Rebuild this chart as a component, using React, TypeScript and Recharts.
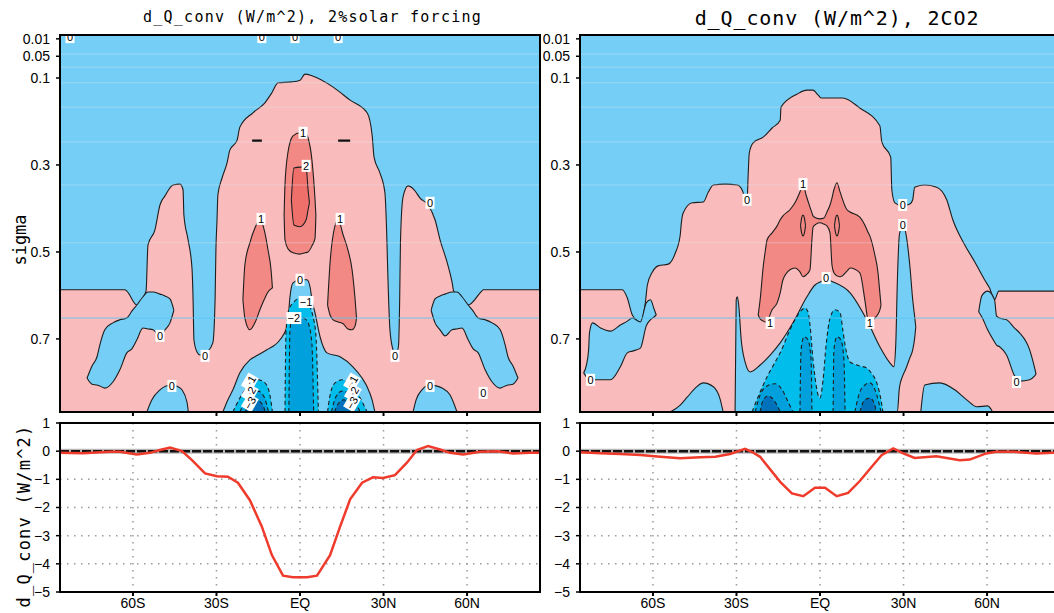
import React from "react";
import {
  ComposedChart,
  LineChart,
  Line,
  Area,
  Scatter,
  XAxis,
  YAxis,
  CartesianGrid,
  ReferenceLine,
} from "recharts";

// axes
const LAT_MIN = -86.2;
const LAT_MAX = 86.2;
const SIG_MAX = 0.868;
const LAT_TICKS = [-60, -30, 0, 30, 60];
const SIGMA_TICKS = [0.01, 0.05, 0.1, 0.3, 0.5, 0.7];
const DQ_TICKS = [1, 0, -1, -2, -3, -4, -5];
const LEVEL_LINES = [0.045, 0.075, 0.111, 0.167, 0.247, 0.346, 0.479];
const LEVEL_STRONG = 0.652;

// ---------- 2% solar forcing: contour outlines (lat, sigma) ----------
const SOLAR_ENV_LAT = [-86.2, -62.9, -62.2, -58.6, -55.3, -54.6, -52.1, -50.3, -48.5, -45.6, -43.1, -42, -41.7, -40.2, -38.8, -38.4, -38.1, -37, -35.9, -33.4, -31.3, -30.5, -30.2, -29.8, -29.5, -28, -26.2, -25.2, -22.6, -21.6, -16.9, -12.6, -10.1, -7.9, -2.9, 0, 1.8, 4.3, 11.9, 18, 24.1, 25.9, 26.6, 28.7, 30.5, 31.1, 31.6, 32.3, 33.4, 34.5, 35.4, 35.8, 36.1, 37, 38.8, 41, 43.1, 46, 48.5, 50.3, 52.8, 54.6, 55.2, 60.4, 65, 65.8, 86.2];
const SOLAR_ENV_TOP = [0.587, 0.587, 0.59, 0.622, 0.59, 0.484, 0.449, 0.392, 0.371, 0.346, 0.344, 0.357, 0.415, 0.472, 0.537, 0.61, 0.702, 0.73, 0.737, 0.73, 0.709, 0.61, 0.495, 0.426, 0.369, 0.33, 0.295, 0.266, 0.243, 0.213, 0.18, 0.157, 0.134, 0.111, 0.109, 0.105, 0.091, 0.095, 0.121, 0.151, 0.18, 0.231, 0.282, 0.318, 0.364, 0.449, 0.564, 0.679, 0.725, 0.739, 0.714, 0.61, 0.472, 0.374, 0.348, 0.357, 0.376, 0.392, 0.426, 0.472, 0.523, 0.569, 0.59, 0.622, 0.592, 0.587, 0.587];

const SOLAR_BLUE_L = {
  lat: [-76.5, -74.7, -72.9, -71.9, -70.1, -67.2, -64.7, -62.2, -60.4, -58.6, -56.4, -54.6, -52.8, -50.3, -48.5, -46.7, -45.3],
  top: [0.79, 0.762, 0.741, 0.714, 0.679, 0.663, 0.656, 0.652, 0.636, 0.622, 0.603, 0.592, 0.592, 0.597, 0.601, 0.608, 0.634],
  bot: [0.79, 0.804, 0.806, 0.808, 0.813, 0.799, 0.771, 0.732, 0.723, 0.702, 0.675, 0.677, 0.679, 0.693, 0.679, 0.663, 0.634],
};
const SOLAR_BLUE_R = {
  lat: [47.1, 48.5, 50.3, 52.1, 54.6, 56.4, 58.2, 60.4, 62.2, 64, 66.5, 69, 71.9, 73.7, 74.7, 76.5, 78.3],
  top: [0.634, 0.608, 0.601, 0.597, 0.592, 0.592, 0.603, 0.622, 0.636, 0.652, 0.656, 0.663, 0.679, 0.714, 0.741, 0.762, 0.79],
  bot: [0.634, 0.663, 0.679, 0.693, 0.679, 0.677, 0.675, 0.702, 0.723, 0.732, 0.771, 0.799, 0.813, 0.808, 0.806, 0.804, 0.79],
};
const SOLAR_HUMP_L = { lat: [-55, -53.2, -50.3, -48.1, -46, -43.8, -42.4, -40.6, -40.1], top: [0.868, 0.84, 0.817, 0.808, 0.806, 0.81, 0.817, 0.845, 0.868] };
const SOLAR_HUMP_R = { lat: [40.6, 41.7, 43.8, 46.7, 48.9, 51, 53.9, 56.4], top: [0.868, 0.84, 0.817, 0.806, 0.808, 0.813, 0.829, 0.868] };
const SOLAR_CORE = {
  lat: [-27.7, -25.9, -24.1, -21.6, -18, -15.1, -11.9, -7.2, -4.7, -4, -3.6, -2.5, 0, 2.5, 3.6, 4.3, 5.4, 7.2, 9.7, 14.4, 19, 22.3, 24.1, 25.9, 26.9],
  top: [0.868, 0.84, 0.817, 0.778, 0.748, 0.737, 0.725, 0.702, 0.672, 0.633, 0.603, 0.571, 0.564, 0.564, 0.58, 0.61, 0.64, 0.695, 0.732, 0.741, 0.764, 0.79, 0.81, 0.84, 0.868],
};
const SOLAR_N1_C = { lat: [-5.4, -5, -4, -2.2, 0, 2.5, 4, 4.7, 5.7, 6.6], top: [0.868, 0.679, 0.633, 0.615, 0.606, 0.61, 0.633, 0.649, 0.691, 0.868] };
const SOLAR_N1_L = { lat: [-24.1, -21.6, -18.7, -15.1, -12.6, -10.8, -9.9], top: [0.868, 0.836, 0.81, 0.794, 0.801, 0.829, 0.868] };
const SOLAR_N1_R = { lat: [9.9, 10.8, 12.6, 15.1, 18.7, 21.6, 24.1], top: [0.868, 0.829, 0.801, 0.794, 0.81, 0.836, 0.868] };
const SOLAR_N2_C = { lat: [-4, -3.6, -2.9, 0, 2.2, 3.2, 4.3, 4.9], top: [0.868, 0.679, 0.656, 0.649, 0.656, 0.668, 0.714, 0.868] };
const SOLAR_N2_L = { lat: [-21.6, -19.8, -17.2, -15.1, -12.9, -11.3], top: [0.868, 0.845, 0.824, 0.82, 0.833, 0.868] };
const SOLAR_N2_R = { lat: [11.3, 12.9, 15.1, 17.2, 19.8, 21.6], top: [0.868, 0.833, 0.82, 0.824, 0.845, 0.868] };
const SOLAR_N3_L = { lat: [-19.8, -18, -15.8, -13.7, -12.4], top: [0.868, 0.852, 0.84, 0.849, 0.868] };
const SOLAR_N3_R = { lat: [12.4, 13.7, 15.8, 18, 19.8], top: [0.868, 0.849, 0.84, 0.852, 0.868] };
const SOLAR_P1_C = {
  lat: [-5.7, -5.4, -4.3, -2.5, 0, 1.8, 2.9, 4.3, 5.4, 5.7],
  top: [0.415, 0.346, 0.27, 0.233, 0.226, 0.226, 0.238, 0.289, 0.38, 0.415],
  bot: [0.415, 0.472, 0.493, 0.502, 0.505, 0.502, 0.5, 0.486, 0.468, 0.415],
};
const SOLAR_P1_L = {
  lat: [-20.5, -19.8, -18, -16.2, -14.4, -12.6, -11.5, -10.4, -9.9],
  top: [0.61, 0.53, 0.479, 0.445, 0.426, 0.456, 0.495, 0.541, 0.583],
  bot: [0.61, 0.652, 0.679, 0.663, 0.633, 0.606, 0.592, 0.585, 0.583],
};
const SOLAR_P1_R = {
  lat: [9.9, 10.8, 11.9, 13.7, 15.5, 17.2, 18.7, 19.8, 20.3],
  top: [0.622, 0.525, 0.461, 0.426, 0.461, 0.495, 0.541, 0.61, 0.652],
  bot: [0.622, 0.645, 0.656, 0.661, 0.665, 0.677, 0.679, 0.67, 0.652],
};
const SOLAR_P2_C = {
  lat: [-3.1, -2.2, 0, 2.2, 2.9, 3.4],
  top: [0.38, 0.307, 0.305, 0.305, 0.357, 0.387],
  bot: [0.38, 0.438, 0.442, 0.426, 0.403, 0.387],
};
const SOLAR_DASHES = [
  [-17.2, -13.7, 0.244],
  [13.7, 18, 0.244],
];
const SOLAR_LABELS = [
  { lat: 1.1, sig: 0.226, t: "1" }, { lat: 2.2, sig: 0.302, t: "2" },
  { lat: -14, sig: 0.424, t: "1" }, { lat: 14.4, sig: 0.424, t: "1" },
  { lat: 0, sig: 0.564, t: "0" }, { lat: 2.2, sig: 0.615, t: "\u22121" }, { lat: -2.2, sig: 0.652, t: "\u22122" },
  { lat: 46.7, sig: 0.387, t: "0" }, { lat: -50.3, sig: 0.693, t: "0" },
  { lat: -34.1, sig: 0.739, t: "0" }, { lat: 34.1, sig: 0.739, t: "0" },
  { lat: -46, sig: 0.808, t: "0" }, { lat: 46.7, sig: 0.808, t: "0" }, { lat: 65.8, sig: 0.824, t: "0" },
  { lat: -18, sig: 0.799, t: "\u22121", r: -60 }, { lat: -18, sig: 0.824, t: "\u22122", r: -60 }, { lat: -18, sig: 0.847, t: "\u22123", r: -60 },
  { lat: 18.7, sig: 0.799, t: "\u22121", r: -60 }, { lat: 19, sig: 0.824, t: "\u22122", r: -60 }, { lat: 18.7, sig: 0.847, t: "\u22123", r: -60 },
  { lat: -82.6, sig: 0.006, t: "0" }, { lat: -13.7, sig: 0.006, t: "0" }, { lat: -1.8, sig: 0.006, t: "0" }, { lat: 13.7, sig: 0.006, t: "0" },
];

// ---------- 2CO2: contour outlines (lat, sigma) ----------
const CO2_ENV_LAT = [-86.2, -71, -69.2, -67.4, -64.5, -62.7, -62, -60.2, -58.1, -54.5, -52, -50.2, -49.8, -49.1, -45.9, -41.9, -40.1, -38.3, -34, -29.7, -28, -26.9, -26.2, -25.8, -25.4, -24, -20.4, -17.2, -14.3, -14, -8.2, -4.7, -2.5, -0.7, 0.4, 8.2, 14.3, 21.5, 22.2, 25.4, 25.8, 26.9, 29.7, 32.3, 33.3, 34, 37.6, 41.9, 45.5, 47.7, 52, 55.6, 59.1, 60.9, 62.7, 64.2, 66.3, 86.2];
const CO2_ENV_TOP = [0.587, 0.587, 0.606, 0.645, 0.661, 0.615, 0.576, 0.546, 0.532, 0.528, 0.503, 0.461, 0.433, 0.41, 0.387, 0.385, 0.362, 0.346, 0.344, 0.346, 0.357, 0.376, 0.383, 0.323, 0.272, 0.249, 0.236, 0.215, 0.197, 0.167, 0.137, 0.128, 0.128, 0.139, 0.146, 0.146, 0.169, 0.21, 0.247, 0.282, 0.357, 0.387, 0.394, 0.39, 0.38, 0.351, 0.346, 0.351, 0.38, 0.426, 0.484, 0.523, 0.564, 0.583, 0.61, 0.59, 0.59, 0.59];

const CO2_BLUE_L = {
  lat: [-84.9, -83.9, -83.1, -82.8, -81.7, -78.8, -75.3, -71.7, -69.2, -67.4, -64.5, -62.4, -60.9, -59.5, -58.8],
  top: [0.778, 0.76, 0.725, 0.686, 0.663, 0.675, 0.682, 0.668, 0.659, 0.652, 0.661, 0.617, 0.61, 0.633, 0.645],
  bot: [0.778, 0.787, 0.792, 0.794, 0.794, 0.794, 0.794, 0.764, 0.732, 0.728, 0.721, 0.67, 0.656, 0.649, 0.645],
};
const CO2_BLUE_R = {
  lat: [57, 58.1, 60.2, 62.7, 63.4, 64.5, 67, 69.9, 71.7, 75.3, 77.1, 77.6],
  top: [0.638, 0.601, 0.59, 0.61, 0.647, 0.652, 0.656, 0.675, 0.686, 0.725, 0.767, 0.781],
  bot: [0.638, 0.649, 0.679, 0.707, 0.714, 0.718, 0.737, 0.785, 0.797, 0.794, 0.785, 0.781],
};
const CO2_HUMP_L = { lat: [-53.8, -50.2, -47.7, -44.8, -41.9, -38.3, -35.8, -34.8], top: [0.868, 0.852, 0.834, 0.813, 0.801, 0.81, 0.84, 0.868] };
const CO2_HUMP_R = { lat: [36.2, 37.6, 43, 48.4, 52.7, 56.3, 60.2, 62], top: [0.868, 0.806, 0.801, 0.817, 0.84, 0.856, 0.854, 0.868] };
const CO2_CORE = {
  lat: [-30.5, -30.1, -29.7, -29.2, -28.3, -26.9, -25.1, -21.5, -17.9, -14.3, -9.7, -4.7, -1.8, 0, 2.5, 4.7, 10.8, 16.8, 21.5, 25.1, 26.5, 27.2, 27.8, 28.5, 29.7, 30.8, 32.3, 33.3, 34, 34.4],
  top: [0.868, 0.61, 0.603, 0.622, 0.702, 0.753, 0.776, 0.76, 0.737, 0.709, 0.663, 0.603, 0.576, 0.569, 0.564, 0.569, 0.594, 0.656, 0.718, 0.755, 0.764, 0.714, 0.564, 0.461, 0.438, 0.456, 0.534, 0.61, 0.649, 0.672],
  bot: [0.868, 0.868, 0.868, 0.868, 0.868, 0.868, 0.868, 0.868, 0.868, 0.868, 0.868, 0.868, 0.868, 0.868, 0.868, 0.868, 0.868, 0.868, 0.868, 0.868, 0.868, 0.868, 0.868, 0.813, 0.785, 0.769, 0.743, 0.725, 0.698, 0.672],
};
const CO2_N1 = {
  lat: [-24.4, -21.5, -19, -16.1, -14.3, -10.8, -9, -7.2, -5.4, -4.3, -3.6, -2.5, -1.4, -0.7, 0, 1.1, 2.2, 3.6, 5.4, 7.2, 8.2, 9, 10.8, 14.3, 16.8, 18.6, 20.4, 21.9, 22.6],
  top: [0.868, 0.822, 0.787, 0.753, 0.732, 0.679, 0.656, 0.638, 0.629, 0.638, 0.668, 0.748, 0.806, 0.829, 0.836, 0.794, 0.714, 0.652, 0.633, 0.64, 0.679, 0.714, 0.753, 0.762, 0.767, 0.78, 0.801, 0.84, 0.868],
};
const CO2_N2_A = { lat: [-23.3, -21.5, -19, -16.1, -13.6, -11.8, -9.7], top: [0.868, 0.829, 0.808, 0.803, 0.817, 0.84, 0.868] };
const CO2_N2_B = { lat: [-7.2, -6.8, -5.7, -4.3, -3.2, -2.9], top: [0.868, 0.725, 0.695, 0.702, 0.748, 0.868] };
const CO2_N2_C = { lat: [4.7, 5, 6.1, 7.5, 8.6, 9], top: [0.868, 0.725, 0.695, 0.702, 0.748, 0.868] };
const CO2_N2_D = { lat: [12.5, 14.3, 16.1, 17.9, 20.4, 21.9], top: [0.868, 0.822, 0.806, 0.801, 0.829, 0.868] };
const CO2_N3_A = { lat: [-21.5, -20.4, -18.6, -16.1, -14.3], top: [0.868, 0.84, 0.831, 0.845, 0.868] };
const CO2_N3_D = { lat: [14.3, 16.1, 17.9, 19.7, 20.1], top: [0.868, 0.84, 0.836, 0.852, 0.868] };
const CO2_P1 = {
  lat: [-22.2, -21.5, -20.4, -19.7, -19, -17.2, -15.4, -14.3, -13.3, -10.8, -9, -7.2, -6.1, -5, -3.6, -2.9, -2.5, -1.4, 0, 1.4, 2.5, 3.6, 4.3, 5, 6.1, 7.2, 9.7, 10.8, 14.3, 16.1, 17.2, 17.9, 19.7, 20.8, 21.5, 21.9],
  top: [0.645, 0.61, 0.534, 0.5, 0.472, 0.456, 0.44, 0.426, 0.417, 0.403, 0.387, 0.362, 0.344, 0.369, 0.397, 0.41, 0.417, 0.422, 0.424, 0.422, 0.408, 0.392, 0.376, 0.357, 0.341, 0.362, 0.403, 0.408, 0.42, 0.438, 0.454, 0.463, 0.507, 0.546, 0.594, 0.622],
  bot: [0.645, 0.654, 0.659, 0.661, 0.659, 0.633, 0.617, 0.594, 0.564, 0.541, 0.537, 0.546, 0.557, 0.553, 0.541, 0.472, 0.443, 0.436, 0.433, 0.436, 0.44, 0.456, 0.53, 0.548, 0.555, 0.557, 0.544, 0.537, 0.548, 0.61, 0.656, 0.663, 0.652, 0.643, 0.633, 0.622],
};
const CO2_ELL_L = { lat: [-7, -6.6, -6.1, -5.6, -5.2], top: [0.44, 0.422, 0.415, 0.422, 0.44], bot: [0.44, 0.456, 0.463, 0.456, 0.44] };
const CO2_ELL_R = { lat: [5.2, 5.6, 6.1, 6.6, 7], top: [0.44, 0.422, 0.415, 0.422, 0.44], bot: [0.44, 0.456, 0.463, 0.456, 0.44] };
const CO2_LABELS = [
  { lat: -26.2, sig: 0.38, t: "0" }, { lat: -6.1, sig: 0.344, t: "1" }, { lat: 2.2, sig: 0.56, t: "0" },
  { lat: -17.9, sig: 0.663, t: "1" }, { lat: 17.9, sig: 0.663, t: "1" },
  { lat: 29.7, sig: 0.392, t: "0" }, { lat: 29.7, sig: 0.438, t: "0" },
  { lat: -82.4, sig: 0.794, t: "0" }, { lat: 70.6, sig: 0.799, t: "0" },
];

// ---------- column means d_Q_conv (W/m^2) ----------
const SOLAR_LAT = [-86.2, -78, -68.3, -64.7, -58.6, -53.9, -50.3, -46.7, -42.4, -38.8, -34.1, -29.8, -25.9, -22.3, -18, -13.7, -10.1, -6.1, -2.5, 2.5, 6.1, 10.8, 14.4, 18, 22.3, 26.2, 29.8, 34.1, 38.4, 42, 46, 50.3, 53.9, 58.6, 64.7, 70.8, 76.5, 82.6, 86.2];
const SOLAR_DQ = [-0.06, -0.07, -0.02, -0.02, -0.12, -0.06, 0.04, 0.13, 0, -0.32, -0.79, -0.89, -0.91, -1.12, -1.74, -2.68, -3.69, -4.42, -4.48, -4.48, -4.42, -3.69, -2.68, -1.71, -1.12, -0.93, -0.95, -0.85, -0.41, 0.04, 0.18, 0.06, -0.06, -0.12, -0.02, 0, -0.08, -0.06, -0.06];
const CO2_LAT = [-86.2, -78.8, -71.7, -64.5, -57.3, -50.2, -43, -37.6, -32.3, -26.9, -24.4, -21.5, -14.3, -10.1, -6, -1.8, 1.8, 6, 10.1, 14.3, 18.5, 22.1, 26.3, 29.9, 34, 41.8, 50.2, 53.8, 59.7, 63.3, 69.2, 77.7, 83.5, 86.2];
const CO2_DQ = [-0.04, -0.07, -0.1, -0.14, -0.2, -0.25, -0.22, -0.2, -0.1, 0.08, -0.03, -0.2, -1.09, -1.5, -1.6, -1.3, -1.3, -1.6, -1.48, -1.06, -0.56, -0.14, 0.1, -0.08, -0.24, -0.18, -0.32, -0.3, -0.08, -0.02, -0.02, -0.08, -0.06, -0.06];

// colours
const BLUE0 = "#74cef6";
const BLUE1 = "#00bdec";
const BLUE2 = "#00a0dc";
const BLUE3 = "#0072bc";
const PINK0 = "#f9bbbb";
const PINK1 = "#f28985";
const PINK2 = "#ef6f6b";
const INK = "#1e1e1e";
const MONO = "'DejaVu Sans Mono', monospace";
const TICK = { fontSize: 14, fill: "#000", fontFamily: "'Liberation Sans', Arial, sans-serif" };

const SOLAR_LAYERS = [
  { d: SOLAR_BLUE_L, fill: BLUE0 }, { d: SOLAR_BLUE_R, fill: BLUE0 },
  { d: SOLAR_HUMP_L, fill: BLUE0 }, { d: SOLAR_HUMP_R, fill: BLUE0 },
  { d: SOLAR_CORE, fill: BLUE0 },
  { d: SOLAR_N1_C, fill: BLUE1, dash: true }, { d: SOLAR_N1_L, fill: BLUE1, dash: true }, { d: SOLAR_N1_R, fill: BLUE1, dash: true },
  { d: SOLAR_N2_C, fill: BLUE2, dash: true }, { d: SOLAR_N2_L, fill: BLUE2, dash: true }, { d: SOLAR_N2_R, fill: BLUE2, dash: true },
  { d: SOLAR_N3_L, fill: BLUE3, dash: true }, { d: SOLAR_N3_R, fill: BLUE3, dash: true },
  { d: SOLAR_P1_C, fill: PINK1 }, { d: SOLAR_P1_L, fill: PINK1 }, { d: SOLAR_P1_R, fill: PINK1 },
  { d: SOLAR_P2_C, fill: PINK2 },
];
const CO2_LAYERS = [
  { d: CO2_BLUE_L, fill: BLUE0 }, { d: CO2_BLUE_R, fill: BLUE0 },
  { d: CO2_HUMP_L, fill: BLUE0 }, { d: CO2_HUMP_R, fill: BLUE0 },
  { d: CO2_CORE, fill: BLUE0 },
  { d: CO2_N1, fill: BLUE1, dash: true },
  { d: CO2_N2_A, fill: BLUE2, dash: true }, { d: CO2_N2_B, fill: BLUE2, dash: true },
  { d: CO2_N2_C, fill: BLUE2, dash: true }, { d: CO2_N2_D, fill: BLUE2, dash: true },
  { d: CO2_N3_A, fill: BLUE3, dash: true }, { d: CO2_N3_D, fill: BLUE3, dash: true },
  { d: CO2_P1, fill: PINK1 },
  { d: CO2_ELL_L, fill: PINK1 }, { d: CO2_ELL_R, fill: PINK1 },
];

function buildRows(envLat, envTop, layers) {
  const map = new Map();
  const row = (lat) => {
    const k = lat.toFixed(2);
    let r = map.get(k);
    if (!r) {
      r = { lat };
      map.set(k, r);
    }
    return r;
  };
  row(LAT_MIN).bg = [0, SIG_MAX];
  row(LAT_MAX).bg = [0, SIG_MAX];
  envLat.forEach((l, i) => (row(l).env = [envTop[i], SIG_MAX]));
  layers.forEach((ly, j) => {
    ly.d.lat.forEach((l, i) => {
      row(l)["k" + j] = [ly.d.top[i], ly.d.bot ? ly.d.bot[i] : SIG_MAX];
    });
  });
  return [...map.values()].sort((a, b) => a.lat - b.lat);
}

function LabelBox(props) {
  const { cx, cy, payload } = props;
  if (cx == null || cy == null) return null;
  const w = payload.t.length * 6 + 3;
  return (
    <g transform={`translate(${cx},${cy}) rotate(${payload.r || 0})`}>
      <rect x={-w / 2} y={-6} width={w} height={12} fill="#fff" />
      <text x={0} y={4} textAnchor="middle" fontSize={11} fontFamily="'Liberation Sans', Arial" fill="#000">
        {payload.t}
      </text>
    </g>
  );
}

function ContourPanel({ left, yWidth, envLat, envTop, layers, labels, dashes }) {
  const rows = buildRows(envLat, envTop, layers);
  return (
    <div style={{ position: "absolute", left, top: 0 }}>
      <ComposedChart width={yWidth + 480} height={418} data={rows} margin={{ top: 34.5, right: 0, bottom: 0, left: 0 }}>
        <XAxis dataKey="lat" type="number" domain={[LAT_MIN, LAT_MAX]} allowDataOverflow ticks={LAT_TICKS} interval={0}
          tickFormatter={() => ""} axisLine={false} tickLine={{ stroke: "#000", strokeWidth: 2 }} tickSize={4} height={6} />
        <YAxis type="number" domain={[0, SIG_MAX]} allowDataOverflow reversed ticks={SIGMA_TICKS} interval={0}
          width={yWidth} axisLine={false} tickLine={{ stroke: "#000", strokeWidth: 1.5 }} tickSize={4} tickMargin={6} tick={TICK} />
        <Area dataKey="bg" type="linear" fill={BLUE0} fillOpacity={1} stroke="none" connectNulls isAnimationActive={false} dot={false} activeDot={false} />
        <Area dataKey="env" type="monotone" fill={PINK0} fillOpacity={1} stroke={INK} strokeWidth={1.1} connectNulls isAnimationActive={false} dot={false} activeDot={false} />
        {layers.map((ly, j) => (
          <Area key={j} dataKey={"k" + j} type="monotone" fill={ly.fill} fillOpacity={1} stroke={INK} strokeWidth={1.1}
            strokeDasharray={ly.dash ? "4 3" : undefined} connectNulls isAnimationActive={false} dot={false} activeDot={false} />
        ))}
        {LEVEL_LINES.map((s) => (
          <Line key={s} data={[{ lat: LAT_MIN, sig: s }, { lat: LAT_MAX, sig: s }]} dataKey="sig" stroke="#e4f2fa"
            strokeOpacity={0.35} strokeWidth={1} dot={false} activeDot={false} isAnimationActive={false} />
        ))}
        <Line data={[{ lat: LAT_MIN, sig: LEVEL_STRONG }, { lat: LAT_MAX, sig: LEVEL_STRONG }]} dataKey="sig" stroke="#5cc6f2"
          strokeOpacity={0.85} strokeWidth={1} dot={false} activeDot={false} isAnimationActive={false} />
        {dashes.map((d, i) => (
          <Line key={"d" + i} data={[{ lat: d[0], sig: d[2] }, { lat: d[1], sig: d[2] }]} dataKey="sig" stroke="#111"
            strokeWidth={2.2} dot={false} activeDot={false} isAnimationActive={false} />
        ))}
        <Scatter data={labels} dataKey="sig" shape={LabelBox} isAnimationActive={false} />
      </ComposedChart>
    </div>
  );
}

const latLabel = (v) => (v === 0 ? "EQ" : v < 0 ? `${-v}S` : `${v}N`);
const dqLabel = (v) => (v < 0 ? `\u2212${-v}` : `${v}`);

function DqPanel({ left, yWidth, lat, vals }) {
  const data = lat.map((l, i) => ({ lat: l, v: vals[i] }));
  return (
    <div style={{ position: "absolute", left, top: 413 }}>
      <LineChart width={yWidth + 480} height={201} data={data} margin={{ top: 10, right: 0, bottom: 0, left: 0 }}>
        <CartesianGrid stroke="#9a9a9a" strokeDasharray="1.5 5.5" strokeWidth={1.5} />
        <XAxis dataKey="lat" type="number" domain={[LAT_MIN, LAT_MAX]} allowDataOverflow ticks={LAT_TICKS} interval={0}
          tickFormatter={latLabel} axisLine={false} tickLine={{ stroke: "#000", strokeWidth: 2 }} tickSize={4} height={22} tick={TICK} />
        <YAxis type="number" domain={[-5, 1]} allowDataOverflow ticks={DQ_TICKS} interval={0} tickFormatter={dqLabel}
          width={yWidth} axisLine={false} tickLine={{ stroke: "#000", strokeWidth: 1.5 }} tickSize={4} tickMargin={6} tick={TICK} />
        <ReferenceLine y={0} stroke="#b8b8b8" strokeWidth={5} />
        <ReferenceLine y={0} stroke="#111" strokeWidth={2.5} strokeDasharray="9 2" />
        <Line dataKey="v" type="linear" stroke="#ef3b2c" strokeWidth={2.5} dot={false} activeDot={false} isAnimationActive={false} />
      </LineChart>
    </div>
  );
}

const frame = (left, top, width, height) => (
  <div style={{ position: "absolute", left, top, width, height, border: "2px solid #000", boxSizing: "border-box", pointerEvents: "none" }} />
);

const rotated = (text, cx, cy, size, spacing) => (
  <div style={{ position: "absolute", left: cx, top: cy, transform: "translate(-50%,-50%) rotate(-90deg)", whiteSpace: "pre",
    fontFamily: MONO, fontSize: size, letterSpacing: spacing, lineHeight: 1, color: "#000" }}>
    {text}
  </div>
);

export default function App() {
  return (
    <div style={{ position: "fixed", left: 0, top: 0, width: 1054, height: 613, overflow: "hidden", background: "#fff" }}>
      <div style={{ position: "absolute", left: 0, width: 625, top: 10, textAlign: "center", whiteSpace: "pre", fontFamily: MONO, fontSize: 15, letterSpacing: 1.24, lineHeight: 1 }}>
        d_Q_conv (W/m^2), 2%solar forcing
      </div>
      <div style={{ position: "absolute", left: 537, width: 600, top: 8, textAlign: "center", whiteSpace: "pre", fontFamily: MONO, fontSize: 20, letterSpacing: 0.9, lineHeight: 1 }}>
        d_Q_conv (W/m^2), 2CO2
      </div>
      {rotated("sigma", 20, 240, 17, 0)}
      {rotated("d_Q_conv (W/m^2)", 24, 516, 17, 1.2)}

      <ContourPanel left={10} yWidth={50} envLat={SOLAR_ENV_LAT} envTop={SOLAR_ENV_TOP} layers={SOLAR_LAYERS} labels={SOLAR_LABELS} dashes={SOLAR_DASHES} />
      <ContourPanel left={540} yWidth={40} envLat={CO2_ENV_LAT} envTop={CO2_ENV_TOP} layers={CO2_LAYERS} labels={CO2_LABELS} dashes={[]} />
      <DqPanel left={10} yWidth={50} lat={SOLAR_LAT} vals={SOLAR_DQ} />
      <DqPanel left={540} yWidth={40} lat={CO2_LAT} vals={CO2_DQ} />

      {frame(59, 33.5, 482, 379.5)}
      {frame(579, 33.5, 490, 379.5)}
      {frame(59, 422, 482, 171)}
      {frame(579, 422, 490, 171)}
    </div>
  );
}
